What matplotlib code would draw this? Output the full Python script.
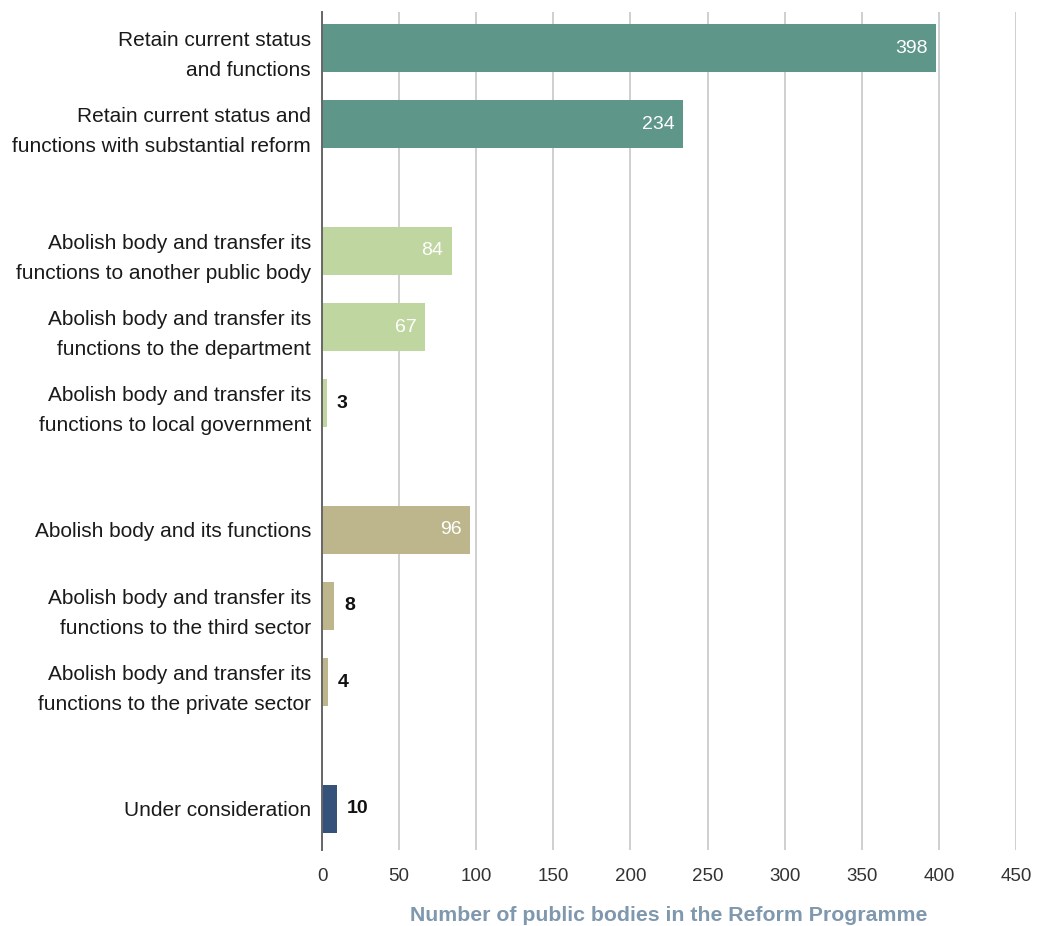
import matplotlib
matplotlib.use("Agg")
import matplotlib.pyplot as plt

# Outcome categories, grouped as they appear top to bottom
groups = [
    ["Retain current status\nand functions",
     "Retain current status and\nfunctions with substantial reform"],
    ["Abolish body and transfer its\nfunctions to another public body",
     "Abolish body and transfer its\nfunctions to the department",
     "Abolish body and transfer its\nfunctions to local government"],
    ["Abolish body and its functions",
     "Abolish body and transfer its\nfunctions to the third sector",
     "Abolish body and transfer its\nfunctions to the private sector"],
    ["Under consideration"],
]
group_values = [
    [398, 234],
    [84, 67, 3],
    [96, 8, 4],
    [10],
]
group_colors = ["#5e968a", "#bfd6a0", "#bdb58b", "#35527a"]

x_ticks = [0, 50, 100, 150, 200, 250, 300, 350, 400, 450]
x_label = "Number of public bodies in the Reform Programme"

plt.rcParams["font.family"] = ["Liberation Sans", "DejaVu Sans"]

fig = plt.figure(figsize=(10.46, 9.26), dpi=100)
ax = fig.add_axes([322 / 1046, 1 - 850 / 926, (1016 - 322) / 1046, (850 - 12) / 926])

GAP = 0.67
pos = 0.0
ypos, labels, values, colors = [], [], [], []
for gi, (cats, vals) in enumerate(zip(groups, group_values)):
    if gi > 0:
        pos += GAP
    for c, v in zip(cats, vals):
        ypos.append(pos)
        labels.append(c)
        values.append(v)
        colors.append(group_colors[gi])
        pos += 1

ax.barh(ypos, values, height=0.62, color=colors, zorder=3)

for y, v in zip(ypos, values):
    if v >= 50:
        ax.annotate(str(v), (v, y), xytext=(-6, 0), textcoords="offset points",
                    ha="right", va="center", color="white", fontsize=14, zorder=4)
    else:
        ax.annotate(str(v), (v, y), xytext=(7, 0), textcoords="offset points",
                    ha="left", va="center", color="#111111", fontsize=14,
                    fontweight="bold", zorder=4)

ax.set_xlim(0, 450)
ax.set_ylim(10.55, -0.474)
ax.set_xticks(x_ticks)
ax.set_xticklabels([str(t) for t in x_ticks], fontsize=13.5, color="#333333")
ax.set_yticks(ypos)
ax.set_yticklabels(labels, fontsize=15, color="#1a1a1a", linespacing=1.72)
ax.tick_params(axis="both", length=0)
ax.tick_params(axis="x", pad=13)
ax.tick_params(axis="y", pad=8)

ax.grid(axis="x", color="#cccccc", linewidth=1.3, zorder=0)
ax.set_axisbelow(True)
for s in ["top", "right", "bottom"]:
    ax.spines[s].set_visible(False)
ax.spines["left"].set_color("#666666")
ax.spines["left"].set_linewidth(1.4)
ax.spines["left"].set_zorder(5)

ax.set_xlabel(x_label, fontsize=15.3, fontweight="bold", color="#7f98ae", labelpad=15)

fig.savefig("out.png", dpi=100, facecolor="white")
